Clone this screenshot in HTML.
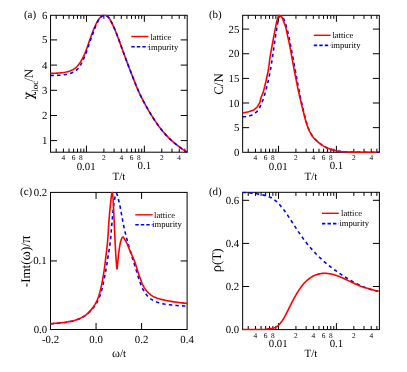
<!DOCTYPE html>
<html><head><meta charset="utf-8"><title>figure</title>
<style>html,body{margin:0;padding:0;background:#fff}svg{display:block;will-change:transform}</style></head>
<body>
<svg width="407" height="372" viewBox="0 0 407 372" font-family='"Liberation Serif", serif' fill="#000" text-rendering="geometricPrecision">
<rect width="407" height="372" fill="#fff" stroke="none"/>
<defs>
<clipPath id="ca"><rect x="49.65" y="14.4" width="138.45" height="138.7"/></clipPath>
<clipPath id="cb"><rect x="241.75" y="14.4" width="138.5" height="138.8"/></clipPath>
<clipPath id="cc"><rect x="49.6" y="191.5" width="138.4" height="138.9"/></clipPath>
<clipPath id="cd"><rect x="241.75" y="191.4" width="138.55" height="139.1"/></clipPath>
</defs>
<rect x="50.55" y="15.3" width="136.65" height="136.9" fill="none" stroke="#000" stroke-width="1.0"/>
<path d="M56.18,152.2v-3.6 M56.18,15.3v3.6" stroke="#000" stroke-width="1.0" fill="none"/>
<path d="M63.41,152.2v-3.6 M63.41,15.3v3.6" stroke="#000" stroke-width="1.0" fill="none"/>
<text x="63.41" y="160.3" font-size="7.4" text-anchor="middle">4</text>
<path d="M69.02,152.2v-3.6 M69.02,15.3v3.6" stroke="#000" stroke-width="1.0" fill="none"/>
<path d="M73.6,152.2v-3.6 M73.6,15.3v3.6" stroke="#000" stroke-width="1.0" fill="none"/>
<text x="73.6" y="160.3" font-size="7.4" text-anchor="middle">6</text>
<path d="M77.48,152.2v-3.6 M77.48,15.3v3.6" stroke="#000" stroke-width="1.0" fill="none"/>
<path d="M80.84,152.2v-3.6 M80.84,15.3v3.6" stroke="#000" stroke-width="1.0" fill="none"/>
<text x="80.84" y="160.3" font-size="7.4" text-anchor="middle">8</text>
<path d="M83.8,152.2v-3.6 M83.8,15.3v3.6" stroke="#000" stroke-width="1.0" fill="none"/>
<path d="M86.45,152.2v-6.5 M86.45,15.3v6.5" stroke="#000" stroke-width="1.0" fill="none"/>
<path d="M103.88,152.2v-3.6 M103.88,15.3v3.6" stroke="#000" stroke-width="1.0" fill="none"/>
<text x="103.88" y="160.3" font-size="7.4" text-anchor="middle">2</text>
<path d="M114.08,152.2v-3.6 M114.08,15.3v3.6" stroke="#000" stroke-width="1.0" fill="none"/>
<path d="M121.31,152.2v-3.6 M121.31,15.3v3.6" stroke="#000" stroke-width="1.0" fill="none"/>
<text x="121.31" y="160.3" font-size="7.4" text-anchor="middle">4</text>
<path d="M126.92,152.2v-3.6 M126.92,15.3v3.6" stroke="#000" stroke-width="1.0" fill="none"/>
<path d="M131.5,152.2v-3.6 M131.5,15.3v3.6" stroke="#000" stroke-width="1.0" fill="none"/>
<text x="131.5" y="160.3" font-size="7.4" text-anchor="middle">6</text>
<path d="M135.38,152.2v-3.6 M135.38,15.3v3.6" stroke="#000" stroke-width="1.0" fill="none"/>
<path d="M138.74,152.2v-3.6 M138.74,15.3v3.6" stroke="#000" stroke-width="1.0" fill="none"/>
<text x="138.74" y="160.3" font-size="7.4" text-anchor="middle">8</text>
<path d="M141.7,152.2v-3.6 M141.7,15.3v3.6" stroke="#000" stroke-width="1.0" fill="none"/>
<path d="M144.35,152.2v-6.5 M144.35,15.3v6.5" stroke="#000" stroke-width="1.0" fill="none"/>
<path d="M161.78,152.2v-3.6 M161.78,15.3v3.6" stroke="#000" stroke-width="1.0" fill="none"/>
<text x="161.78" y="160.3" font-size="7.4" text-anchor="middle">2</text>
<path d="M171.98,152.2v-3.6 M171.98,15.3v3.6" stroke="#000" stroke-width="1.0" fill="none"/>
<path d="M179.21,152.2v-3.6 M179.21,15.3v3.6" stroke="#000" stroke-width="1.0" fill="none"/>
<text x="179.21" y="160.3" font-size="7.4" text-anchor="middle">4</text>
<path d="M184.82,152.2v-3.6 M184.82,15.3v3.6" stroke="#000" stroke-width="1.0" fill="none"/>
<text x="86.15" y="169.6" font-size="10.8" text-anchor="middle">0.01</text>
<text x="144.35" y="169.4" font-size="10.8" text-anchor="middle">0.1</text>
<path d="M50.55,39.9h6.5 M187.2,39.9h-6.5" stroke="#000" stroke-width="1.0" fill="none"/>
<path d="M50.55,65.1h6.5 M187.2,65.1h-6.5" stroke="#000" stroke-width="1.0" fill="none"/>
<path d="M50.55,90.3h6.5 M187.2,90.3h-6.5" stroke="#000" stroke-width="1.0" fill="none"/>
<path d="M50.55,115.5h6.5 M187.2,115.5h-6.5" stroke="#000" stroke-width="1.0" fill="none"/>
<path d="M50.55,140.6h6.5 M187.2,140.6h-6.5" stroke="#000" stroke-width="1.0" fill="none"/>
<text x="47.4" y="18.6" font-size="10.8" text-anchor="end">6</text>
<text x="47.4" y="43.4" font-size="10.8" text-anchor="end">5</text>
<text x="47.4" y="68.6" font-size="10.8" text-anchor="end">4</text>
<text x="47.4" y="93.8" font-size="10.8" text-anchor="end">3</text>
<text x="47.4" y="119" font-size="10.8" text-anchor="end">2</text>
<text x="47.4" y="144.1" font-size="10.8" text-anchor="end">1</text>
<path d="M50.5,73.4 L52.14,73.34 L53.77,73.28 L55.4,73.21 L57.01,73.13 L58.62,73.03 L60.2,72.91 L61.77,72.75 L63.32,72.55 L64.83,72.3 L66.32,72 L67.78,71.63 L69.21,71.2 L70.59,70.69 L71.93,70.1 L73.21,69.42 L74.43,68.65 L75.58,67.78 L76.66,66.81 L77.66,65.74 L78.61,64.58 L79.5,63.36 L80.34,62.07 L81.16,60.74 L81.94,59.37 L82.7,57.97 L83.43,56.54 L84.12,55.08 L84.79,53.6 L85.42,52.11 L86.02,50.59 L86.59,49.07 L87.14,47.53 L87.68,45.98 L88.21,44.43 L88.74,42.88 L89.28,41.32 L89.82,39.77 L90.37,38.22 L90.93,36.67 L91.49,35.14 L92.06,33.6 L92.63,32.08 L93.21,30.58 L93.8,29.1 L94.4,27.64 L95,26.23 L95.62,24.85 L96.25,23.53 L96.9,22.26 L97.57,21.07 L98.26,19.96 L98.97,18.94 L99.7,18.03 L100.46,17.24 L101.23,16.56 L102,16 L102.78,15.57 L103.57,15.3 L104.39,15.2 L105.25,15.29 L106.14,15.59 L107.02,16.07 L107.86,16.73 L108.65,17.57 L109.38,18.56 L110.09,19.68 L110.78,20.91 L111.47,22.22 L112.17,23.62 L112.86,25.08 L113.55,26.6 L114.25,28.17 L114.94,29.78 L115.62,31.43 L116.29,33.11 L116.96,34.8 L117.61,36.49 L118.25,38.18 L118.87,39.85 L119.48,41.49 L120.06,43.09 L120.63,44.66 L121.19,46.23 L121.76,47.82 L122.35,49.47 L122.98,51.19 L123.64,53.02 L124.36,54.97 L125.12,57.02 L125.93,59.16 L126.76,61.37 L127.61,63.63 L128.48,65.91 L129.35,68.2 L130.22,70.47 L131.07,72.72 L131.92,74.91 L132.75,77.06 L133.57,79.16 L134.38,81.22 L135.18,83.23 L135.98,85.19 L136.78,87.1 L137.57,88.97 L138.37,90.8 L139.18,92.59 L140.01,94.36 L140.85,96.14 L141.73,97.92 L142.65,99.72 L143.61,101.56 L144.62,103.45 L145.68,105.38 L146.78,107.35 L147.92,109.35 L149.1,111.35 L150.3,113.35 L151.51,115.34 L152.74,117.3 L153.97,119.21 L155.21,121.08 L156.44,122.89 L157.68,124.65 L158.93,126.37 L160.18,128.03 L161.45,129.65 L162.72,131.22 L164.01,132.74 L165.32,134.23 L166.64,135.67 L167.99,137.08 L169.36,138.45 L170.76,139.8 L172.2,141.11 L173.68,142.41 L175.19,143.68 L176.75,144.94 L178.35,146.18 L180.01,147.41 L181.72,148.64 L183.48,149.86 L185.31,151.08 L187.2,152.3" fill="none" stroke="#ff0000" stroke-width="1.6" stroke-linejoin="round" clip-path="url(#ca)"/>
<path d="M50.5,75.5 L52.35,75.46 L54.07,75.42 L55.69,75.38 L57.22,75.34 L58.68,75.28 L60.08,75.19 L61.46,75.08 L62.82,74.94 L64.19,74.76 L65.57,74.53 L67,74.24 L68.49,73.9 L70.01,73.48 L71.53,72.97 L73.03,72.35 L74.46,71.6 L75.8,70.7 L77.01,69.66 L78.12,68.47 L79.13,67.17 L80.05,65.79 L80.91,64.34 L81.72,62.84 L82.5,61.33 L83.24,59.81 L83.94,58.27 L84.62,56.72 L85.26,55.16 L85.88,53.59 L86.47,52 L87.03,50.41 L87.57,48.8 L88.11,47.2 L88.63,45.6 L89.16,44 L89.7,42.42 L90.24,40.85 L90.8,39.28 L91.36,37.73 L91.92,36.19 L92.48,34.65 L93.04,33.12 L93.6,31.6 L94.15,30.09 L94.71,28.6 L95.28,27.15 L95.85,25.73 L96.44,24.36 L97.04,23.04 L97.66,21.78 L98.3,20.61 L98.97,19.52 L99.67,18.54 L100.39,17.67 L101.14,16.92 L101.9,16.28 L102.66,15.78 L103.43,15.41 L104.22,15.22 L105.04,15.23 L105.89,15.45 L106.75,15.87 L107.58,16.48 L108.37,17.27 L109.12,18.21 L109.85,19.3 L110.55,20.49 L111.25,21.79 L111.95,23.16 L112.65,24.61 L113.35,26.12 L114.04,27.68 L114.73,29.29 L115.42,30.94 L116.1,32.62 L116.77,34.31 L117.43,36.01 L118.07,37.71 L118.7,39.39 L119.31,41.04 L119.9,42.66 L120.48,44.25 L121.04,45.82 L121.61,47.41 L122.2,49.05 L122.82,50.76 L123.48,52.57 L124.19,54.49 L124.94,56.53 L125.74,58.67 L126.57,60.87 L127.42,63.13 L128.29,65.42 L129.16,67.72 L130.04,70.01 L130.9,72.27 L131.75,74.48 L132.59,76.65 L133.41,78.77 L134.23,80.84 L135.04,82.87 L135.84,84.85 L136.64,86.78 L137.44,88.66 L138.24,90.5 L139.05,92.31 L139.88,94.09 L140.72,95.87 L141.6,97.65 L142.51,99.46 L143.47,101.3 L144.48,103.19 L145.54,105.13 L146.64,107.11 L147.78,109.11 L148.96,111.12 L150.16,113.13 L151.38,115.13 L152.61,117.1 L153.85,119.03 L155.09,120.9 L156.33,122.73 L157.58,124.5 L158.83,126.23 L160.09,127.9 L161.35,129.53 L162.63,131.11 L163.93,132.65 L165.24,134.14 L166.57,135.59 L167.92,137.01 L169.3,138.39 L170.7,139.74 L172.15,141.06 L173.62,142.36 L175.14,143.64 L176.71,144.9 L178.32,146.15 L179.98,147.39 L181.69,148.62 L183.47,149.85 L185.3,151.07 L187.2,152.3" fill="none" stroke="#0000ff" stroke-width="1.6" stroke-linejoin="round" stroke-dasharray="3.4 3.2" stroke-dashoffset="0" clip-path="url(#ca)"/>
<text x="30" y="18.4" font-size="11" text-anchor="middle">(a)</text>
<text x="119" y="179.6" font-size="11" text-anchor="middle">T/t</text>
<text transform="translate(33.4,99.4) rotate(-90) scale(0.93,1)" font-size="14.1" font-family='"DejaVu Serif", "Liberation Serif", serif'>χ</text>
<text transform="translate(37.6,91.8) rotate(-90)" font-size="9">loc</text>
<text transform="translate(33.0,81.6) rotate(-90)" font-size="12.6">/N</text>
<path d="M131.3,36.5H148.4" stroke="#ff0000" stroke-width="1.4" fill="none"/>
<path d="M131.3,46.8H148.4" stroke="#0000ff" stroke-width="1.6" stroke-dasharray="3.4 2.1" fill="none"/>
<text x="150.4" y="39.9" font-size="8.6" text-anchor="start">lattice</text>
<text x="148.6" y="49.9" font-size="8.6" text-anchor="start">impurity</text>
<rect x="242.65" y="15.3" width="136.7" height="137" fill="none" stroke="#000" stroke-width="1.0"/>
<path d="M248.23,152.3v-3.6 M248.23,15.3v3.6" stroke="#000" stroke-width="1.0" fill="none"/>
<path d="M255.46,152.3v-3.6 M255.46,15.3v3.6" stroke="#000" stroke-width="1.0" fill="none"/>
<text x="255.46" y="160.3" font-size="7.4" text-anchor="middle">4</text>
<path d="M261.07,152.3v-3.6 M261.07,15.3v3.6" stroke="#000" stroke-width="1.0" fill="none"/>
<path d="M265.65,152.3v-3.6 M265.65,15.3v3.6" stroke="#000" stroke-width="1.0" fill="none"/>
<text x="265.65" y="160.3" font-size="7.4" text-anchor="middle">6</text>
<path d="M269.53,152.3v-3.6 M269.53,15.3v3.6" stroke="#000" stroke-width="1.0" fill="none"/>
<path d="M272.89,152.3v-3.6 M272.89,15.3v3.6" stroke="#000" stroke-width="1.0" fill="none"/>
<text x="272.89" y="160.3" font-size="7.4" text-anchor="middle">8</text>
<path d="M275.85,152.3v-3.6 M275.85,15.3v3.6" stroke="#000" stroke-width="1.0" fill="none"/>
<path d="M278.5,152.3v-6.5 M278.5,15.3v6.5" stroke="#000" stroke-width="1.0" fill="none"/>
<path d="M295.93,152.3v-3.6 M295.93,15.3v3.6" stroke="#000" stroke-width="1.0" fill="none"/>
<text x="295.93" y="160.3" font-size="7.4" text-anchor="middle">2</text>
<path d="M306.13,152.3v-3.6 M306.13,15.3v3.6" stroke="#000" stroke-width="1.0" fill="none"/>
<path d="M313.36,152.3v-3.6 M313.36,15.3v3.6" stroke="#000" stroke-width="1.0" fill="none"/>
<text x="313.36" y="160.3" font-size="7.4" text-anchor="middle">4</text>
<path d="M318.97,152.3v-3.6 M318.97,15.3v3.6" stroke="#000" stroke-width="1.0" fill="none"/>
<path d="M323.55,152.3v-3.6 M323.55,15.3v3.6" stroke="#000" stroke-width="1.0" fill="none"/>
<text x="323.55" y="160.3" font-size="7.4" text-anchor="middle">6</text>
<path d="M327.43,152.3v-3.6 M327.43,15.3v3.6" stroke="#000" stroke-width="1.0" fill="none"/>
<path d="M330.79,152.3v-3.6 M330.79,15.3v3.6" stroke="#000" stroke-width="1.0" fill="none"/>
<text x="330.79" y="160.3" font-size="7.4" text-anchor="middle">8</text>
<path d="M333.75,152.3v-3.6 M333.75,15.3v3.6" stroke="#000" stroke-width="1.0" fill="none"/>
<path d="M336.4,152.3v-6.5 M336.4,15.3v6.5" stroke="#000" stroke-width="1.0" fill="none"/>
<path d="M353.83,152.3v-3.6 M353.83,15.3v3.6" stroke="#000" stroke-width="1.0" fill="none"/>
<text x="353.83" y="160.3" font-size="7.4" text-anchor="middle">2</text>
<path d="M364.03,152.3v-3.6 M364.03,15.3v3.6" stroke="#000" stroke-width="1.0" fill="none"/>
<path d="M371.26,152.3v-3.6 M371.26,15.3v3.6" stroke="#000" stroke-width="1.0" fill="none"/>
<text x="371.26" y="160.3" font-size="7.4" text-anchor="middle">4</text>
<path d="M376.87,152.3v-3.6 M376.87,15.3v3.6" stroke="#000" stroke-width="1.0" fill="none"/>
<text x="278.2" y="169.6" font-size="10.8" text-anchor="middle">0.01</text>
<text x="336.4" y="169.4" font-size="10.8" text-anchor="middle">0.1</text>
<path d="M242.65,29.1h6.5 M379.35,29.1h-6.5" stroke="#000" stroke-width="1.0" fill="none"/>
<path d="M242.65,53.75h6.5 M379.35,53.75h-6.5" stroke="#000" stroke-width="1.0" fill="none"/>
<path d="M242.65,78.4h6.5 M379.35,78.4h-6.5" stroke="#000" stroke-width="1.0" fill="none"/>
<path d="M242.65,103h6.5 M379.35,103h-6.5" stroke="#000" stroke-width="1.0" fill="none"/>
<path d="M242.65,127.65h6.5 M379.35,127.65h-6.5" stroke="#000" stroke-width="1.0" fill="none"/>
<text x="239.4" y="32.6" font-size="10.8" text-anchor="end">25</text>
<text x="239.4" y="57.25" font-size="10.8" text-anchor="end">20</text>
<text x="239.4" y="81.9" font-size="10.8" text-anchor="end">15</text>
<text x="239.4" y="106.5" font-size="10.8" text-anchor="end">10</text>
<text x="239.4" y="131.15" font-size="10.8" text-anchor="end">5</text>
<text x="239.4" y="155.8" font-size="10.8" text-anchor="end">0</text>
<path d="M242.7,116.8 L244.34,116.73 L245.94,116.54 L247.5,116.26 L249.02,115.92 L250.51,115.54 L252,114.99 L253.5,114.21 L254.93,113.27 L256.23,112.23 L257.35,111.14 L258.3,109.91 L259.16,108.51 L259.95,106.97 L260.7,105.33 L261.44,103.64 L262.16,101.9 L262.87,100.04 L263.55,98.08 L264.2,96.05 L264.84,93.95 L265.47,91.79 L266.07,89.6 L266.66,87.36 L267.24,85.06 L267.8,82.7 L268.35,80.26 L268.89,77.75 L269.43,75.13 L269.96,72.42 L270.5,69.55 L271.03,66.41 L271.57,63.06 L272.1,59.57 L272.63,56 L273.15,52.41 L273.65,48.88 L274.14,45.46 L274.62,42.23 L275.07,39.24 L275.5,36.52 L275.91,33.9 L276.29,31.35 L276.66,28.91 L277.03,26.62 L277.39,24.51 L277.76,22.6 L278.13,20.9 L278.47,19.13 L278.8,17.5 L279.19,16.35 L279.7,16.01 L280.55,16.25 L281.61,16.75 L282.58,17.38 L283.36,18.32 L284.09,19.73 L284.77,21.48 L285.42,23.45 L286.06,25.49 L286.68,27.51 L287.27,29.7 L287.85,32.06 L288.41,34.58 L288.96,37.19 L289.5,39.86 L290.03,42.56 L290.56,45.23 L291.1,47.88 L291.63,50.6 L292.16,53.39 L292.69,56.22 L293.21,59.05 L293.72,61.87 L294.22,64.64 L294.71,67.34 L295.19,69.93 L295.65,72.42 L296.09,74.84 L296.53,77.21 L296.95,79.54 L297.38,81.83 L297.8,84.11 L298.24,86.39 L298.69,88.66 L299.13,90.91 L299.58,93.13 L300.03,95.34 L300.49,97.55 L300.96,99.75 L301.44,101.97 L301.94,104.22 L302.44,106.5 L302.96,108.8 L303.49,111.1 L304.03,113.37 L304.59,115.59 L305.16,117.74 L305.75,119.82 L306.34,121.88 L306.95,123.9 L307.58,125.87 L308.24,127.75 L308.93,129.53 L309.67,131.18 L310.45,132.72 L311.28,134.19 L312.16,135.58 L313.09,136.89 L314.07,138.13 L315.12,139.29 L316.23,140.4 L317.41,141.45 L318.62,142.46 L319.86,143.44 L321.16,144.42 L322.51,145.38 L323.89,146.27 L325.29,147.05 L326.68,147.7 L328.09,148.27 L329.52,148.77 L330.95,149.23 L332.39,149.64 L333.81,150.04 L335.2,150.41 L336.61,150.75 L338.09,151.04 L339.69,151.26 L341.36,151.44 L343.11,151.61 L344.96,151.76 L346.94,151.88 L349.06,151.96 L351.36,152.02 L353.83,152.08 L356.47,152.12 L359.27,152.17 L362.24,152.2 L365.36,152.24 L368.64,152.26 L372.08,152.28 L375.67,152.3 L379.4,152.3" fill="none" stroke="#0000ff" stroke-width="1.6" stroke-linejoin="round" stroke-dasharray="3.4 3.2" stroke-dashoffset="0" clip-path="url(#cb)"/>
<path d="M242.7,113 L248.6,111.8 L253.8,109.9 L257.2,107 L259.8,102.7 L261,97.5 L263.2,92.4 L265.8,82 L268.4,70 L270.1,56.7 L273.5,37.8 L276.5,22.3 L278.7,15.1 L282.1,17.2 L285.6,26.6 L289.9,46.4 L294.2,70 L297.6,87.2 L301.1,102.7 L305.2,119 L305.73,120.88 L306.27,122.67 L306.82,124.39 L307.38,126.03 L307.96,127.6 L308.55,129.09 L309.18,130.52 L309.82,131.87 L310.5,133.16 L311.21,134.39 L311.96,135.56 L312.74,136.67 L313.56,137.72 L314.43,138.72 L315.35,139.67 L316.3,140.58 L317.29,141.46 L318.32,142.32 L319.38,143.17 L320.48,144 L321.6,144.82 L322.74,145.61 L323.91,146.35 L325.09,147.03 L326.29,147.64 L327.5,148.16 L328.72,148.62 L329.93,149.03 L331.15,149.39 L332.35,149.73 L333.54,150.06 L334.73,150.37 L335.93,150.66 L337.17,150.93 L338.44,151.17 L339.78,151.39 L341.19,151.57 L342.68,151.72 L344.24,151.84 L345.89,151.94 L347.63,152.02 L349.45,152.08 L351.37,152.12 L353.39,152.15 L355.5,152.17 L357.72,152.19 L360.05,152.19 L362.49,152.2 L365.05,152.21 L367.73,152.22 L370.52,152.23 L373.45,152.26 L376.5,152.3" fill="none" stroke="#ff0000" stroke-width="1.6" stroke-linejoin="round" clip-path="url(#cb)"/>
<text x="215.3" y="18.1" font-size="11" text-anchor="middle">(b)</text>
<text x="311" y="179.6" font-size="11" text-anchor="middle">T/t</text>
<text transform="translate(223,84) rotate(-90)" font-size="13" text-anchor="middle">C/N</text>
<path d="M313.8,35.3H330.6" stroke="#ff0000" stroke-width="1.4" fill="none"/>
<path d="M313.8,45.4H330.6" stroke="#0000ff" stroke-width="1.6" stroke-dasharray="3.4 2.1" fill="none"/>
<text x="332.4" y="38.2" font-size="8.6" text-anchor="start">lattice</text>
<text x="330.9" y="48" font-size="8.6" text-anchor="start">impurity</text>
<rect x="50.5" y="192.4" width="136.6" height="137.1" fill="none" stroke="#000" stroke-width="1.0"/>
<path d="M96.05,329.5v-6.5 M96.05,192.4v6.5" stroke="#000" stroke-width="1.0" fill="none"/>
<path d="M141.6,329.5v-6.5 M141.6,192.4v6.5" stroke="#000" stroke-width="1.0" fill="none"/>
<path d="M50.5,260.95h6.5 M187.1,260.95h-6.5" stroke="#000" stroke-width="1.0" fill="none"/>
<text x="50.5" y="343.2" font-size="10.8" text-anchor="middle">-0.2</text>
<text x="96.05" y="343.2" font-size="10.8" text-anchor="middle">0.0</text>
<text x="141.6" y="343.2" font-size="10.8" text-anchor="middle">0.2</text>
<text x="187.1" y="343.2" font-size="10.8" text-anchor="middle">0.4</text>
<text x="47.2" y="195.9" font-size="10.8" text-anchor="end">0.2</text>
<text x="46.7" y="264.45" font-size="10.8" text-anchor="end">0.1</text>
<text x="47.2" y="333" font-size="10.8" text-anchor="end">0.0</text>
<path d="M50.5,323.8 L52.4,323.71 L54.28,323.59 L56.14,323.45 L57.99,323.29 L59.82,323.11 L61.64,322.92 L63.45,322.71 L65.27,322.46 L67.07,322.18 L68.83,321.87 L70.55,321.53 L72.21,321.17 L73.82,320.77 L75.38,320.32 L76.89,319.82 L78.37,319.27 L79.8,318.69 L81.19,318.04 L82.56,317.32 L83.89,316.52 L85.16,315.68 L86.36,314.81 L87.47,313.9 L88.53,312.93 L89.53,311.92 L90.51,310.87 L91.48,309.8 L92.46,308.71 L93.43,307.59 L94.37,306.43 L95.25,305.22 L96.07,303.96 L96.86,302.62 L97.61,301.22 L98.32,299.77 L98.98,298.29 L99.58,296.79 L100.15,295.24 L100.68,293.63 L101.18,292 L101.64,290.37 L102.06,288.75 L102.45,287.17 L102.79,285.6 L103.11,284.04 L103.41,282.48 L103.72,280.91 L104.04,279.34 L104.35,277.81 L104.67,276.29 L104.98,274.73 L105.3,273.09 L105.63,271.32 L105.98,269.37 L106.34,267.27 L106.7,265.05 L107.07,262.76 L107.43,260.45 L107.79,258.14 L108.14,255.9 L108.48,253.72 L108.83,251.53 L109.19,249.35 L109.53,247.18 L109.86,245.01 L110.16,242.86 L110.42,240.72 L110.64,238.62 L110.83,236.59 L110.99,234.59 L111.15,232.59 L111.3,230.55 L111.47,228.43 L111.66,226.19 L111.88,223.75 L112.12,221.05 L112.38,218.17 L112.65,215.2 L112.93,212.23 L113.23,209.32 L113.54,206.58 L113.86,204.08 L114.18,201.9 L114.53,199.82 L114.89,197.67 L115.28,195.69 L115.68,194.15 L116.11,193.29 L116.56,193.37 L117.06,194.36 L117.59,196.03 L118.13,198.15 L118.68,200.46 L119.21,202.74 L119.73,204.88 L120.23,207.25 L120.73,209.82 L121.23,212.54 L121.73,215.33 L122.23,218.12 L122.72,220.85 L123.22,223.45 L123.71,225.85 L124.2,228.07 L124.68,230.18 L125.15,232.22 L125.63,234.21 L126.12,236.19 L126.63,238.19 L127.16,240.23 L127.72,242.31 L128.31,244.39 L128.92,246.48 L129.54,248.57 L130.17,250.66 L130.8,252.72 L131.42,254.77 L132.04,256.8 L132.67,258.81 L133.3,260.8 L133.93,262.79 L134.56,264.78 L135.19,266.77 L135.81,268.77 L136.43,270.82 L137.05,272.9 L137.66,274.99 L138.28,277.05 L138.91,279.05 L139.55,280.96 L140.2,282.73 L140.85,284.41 L141.5,286.02 L142.17,287.56 L142.89,289.05 L143.67,290.5 L144.54,291.95 L145.51,293.41 L146.55,294.84 L147.67,296.19 L148.85,297.4 L150.08,298.44 L151.39,299.34 L152.79,300.18 L154.26,300.94 L155.79,301.61 L157.37,302.19 L158.96,302.69 L160.6,303.16 L162.28,303.58 L164.04,303.96 L165.88,304.29 L167.83,304.58 L169.89,304.83 L172.05,305.08 L174.31,305.31 L176.68,305.53 L179.14,305.72 L181.7,305.88 L184.35,306.01 L187.1,306.1" fill="none" stroke="#0000ff" stroke-width="1.6" stroke-linejoin="round" stroke-dasharray="3.4 3.2" stroke-dashoffset="0" clip-path="url(#cc)"/>
<path d="M50.5,323.6 L52.23,323.52 L53.96,323.41 L55.67,323.29 L57.36,323.14 L59.04,322.99 L60.71,322.82 L62.37,322.64 L64.03,322.43 L65.69,322.2 L67.33,321.94 L68.94,321.65 L70.52,321.34 L72.04,321.01 L73.51,320.66 L74.95,320.25 L76.35,319.81 L77.71,319.33 L79.04,318.81 L80.33,318.25 L81.6,317.63 L82.84,316.93 L84.04,316.18 L85.2,315.39 L86.29,314.57 L87.31,313.72 L88.29,312.82 L89.22,311.87 L90.11,310.88 L90.98,309.88 L91.82,308.87 L92.64,307.84 L93.44,306.78 L94.2,305.69 L94.92,304.56 L95.58,303.38 L96.22,302.15 L96.82,300.86 L97.39,299.54 L97.92,298.18 L98.43,296.8 L98.91,295.39 L99.36,293.92 L99.8,292.42 L100.21,290.91 L100.59,289.4 L100.95,287.93 L101.27,286.49 L101.57,285.09 L101.85,283.7 L102.12,282.3 L102.39,280.87 L102.65,279.41 L102.92,277.9 L103.19,276.36 L103.45,274.8 L103.71,273.21 L103.96,271.61 L104.2,270 L104.43,268.39 L104.64,266.79 L104.84,265.17 L105.05,263.52 L105.25,261.82 L105.46,260.04 L105.69,258.16 L105.93,256.16 L106.19,254.07 L106.45,251.89 L106.71,249.66 L106.97,247.39 L107.22,245.09 L107.45,242.8 L107.66,240.52 L107.84,238.25 L108.01,235.93 L108.16,233.58 L108.31,231.21 L108.45,228.83 L108.6,226.47 L108.74,224.15 L108.89,221.86 L109.05,219.65 L109.22,217.49 L109.4,215.33 L109.59,213.19 L109.79,211.08 L109.99,209.03 L110.18,207.05 L110.37,205.16 L110.56,203.38 L110.74,201.68 L110.91,200.01 L111.08,198.39 L111.24,196.9 L111.42,195.59 L111.6,194.51 L111.8,193.51 L112.01,192.66 L112.2,192.3 L112.39,192.69 L112.56,193.65 L112.72,194.85 L112.85,196.01 L112.96,197.29 L113.06,198.74 L113.15,200.32 L113.23,202.03 L113.33,203.84 L113.43,205.75 L113.54,207.87 L113.66,210.23 L113.78,212.76 L113.9,215.43 L114.02,218.18 L114.14,220.97 L114.27,223.75 L114.39,226.48 L114.51,229.09 L114.63,231.57 L114.74,234 L114.85,236.43 L114.96,238.85 L115.07,241.24 L115.18,243.57 L115.29,245.85 L115.4,248.03 L115.51,250.12 L115.63,252.1 L115.75,254 L115.87,255.83 L115.98,257.59 L116.11,259.28 L116.23,260.88 L116.35,262.39 L116.47,263.87 L116.59,265.51 L116.71,267.08 L116.84,268.32 L116.96,268.96 L117.09,268.77 L117.23,267.85 L117.36,266.49 L117.5,264.99 L117.64,263.63 L117.78,262.23 L117.93,260.71 L118.08,259.14 L118.23,257.55 L118.39,255.99 L118.56,254.5 L118.74,253.03 L118.93,251.57 L119.12,250.13 L119.33,248.73 L119.54,247.37 L119.76,246.05 L119.97,244.76 L120.2,243.51 L120.45,242.31 L120.75,241.18 L121.11,240.01 L121.56,238.75 L122.07,237.66 L122.61,237.05 L123.17,237.14 L123.78,237.81 L124.42,238.83 L125.09,239.97 L125.75,241.1 L126.43,242.44 L127.13,243.96 L127.84,245.61 L128.56,247.32 L129.27,249.05 L129.98,250.71 L130.68,252.31 L131.39,253.91 L132.1,255.52 L132.81,257.14 L133.5,258.78 L134.18,260.44 L134.83,262.12 L135.46,263.86 L136.05,265.65 L136.63,267.47 L137.19,269.31 L137.76,271.14 L138.33,272.94 L138.92,274.7 L139.52,276.4 L140.12,278.1 L140.72,279.8 L141.34,281.46 L141.97,283.06 L142.64,284.59 L143.35,286.02 L144.11,287.35 L144.93,288.63 L145.8,289.86 L146.72,291.01 L147.67,292.08 L148.66,293.05 L149.67,293.96 L150.72,294.81 L151.83,295.61 L153.01,296.34 L154.27,297 L155.66,297.6 L157.22,298.16 L158.91,298.7 L160.68,299.19 L162.48,299.65 L164.27,300.06 L165.99,300.44 L167.63,300.77 L169.25,301.07 L170.86,301.35 L172.46,301.6 L174.06,301.84 L175.67,302.07 L177.29,302.29 L178.92,302.5 L180.55,302.71 L182.18,302.9 L183.82,303.08 L185.46,303.25 L187.1,303.4" fill="none" stroke="#ff0000" stroke-width="1.6" stroke-linejoin="round" clip-path="url(#cc)"/>
<text x="26.1" y="195.3" font-size="11" text-anchor="middle">(c)</text>
<text x="119" y="357" font-size="11" text-anchor="middle"><tspan font-size="12">ω</tspan>/t</text>
<text transform="translate(29.9,287.2) rotate(-90)" font-size="13">-Imt(<tspan font-size="14.3">ω</tspan>)/<tspan font-size="14.8">π</tspan></text>
<path d="M135.3,214.8H152.6" stroke="#ff0000" stroke-width="1.4" fill="none"/>
<path d="M135.3,224.8H152.6" stroke="#0000ff" stroke-width="1.6" stroke-dasharray="3.4 2.1" fill="none"/>
<text x="154.1" y="217.7" font-size="8.6" text-anchor="start">lattice</text>
<text x="152.2" y="227.4" font-size="8.6" text-anchor="start">impurity</text>
<rect x="242.65" y="192.3" width="136.75" height="137.3" fill="none" stroke="#000" stroke-width="1.0"/>
<path d="M248.23,329.6v-3.6 M248.23,192.3v3.6" stroke="#000" stroke-width="1.0" fill="none"/>
<path d="M255.46,329.6v-3.6 M255.46,192.3v3.6" stroke="#000" stroke-width="1.0" fill="none"/>
<text x="255.46" y="337.7" font-size="7.4" text-anchor="middle">4</text>
<path d="M261.07,329.6v-3.6 M261.07,192.3v3.6" stroke="#000" stroke-width="1.0" fill="none"/>
<path d="M265.65,329.6v-3.6 M265.65,192.3v3.6" stroke="#000" stroke-width="1.0" fill="none"/>
<text x="265.65" y="337.7" font-size="7.4" text-anchor="middle">6</text>
<path d="M269.53,329.6v-3.6 M269.53,192.3v3.6" stroke="#000" stroke-width="1.0" fill="none"/>
<path d="M272.89,329.6v-3.6 M272.89,192.3v3.6" stroke="#000" stroke-width="1.0" fill="none"/>
<text x="272.89" y="337.7" font-size="7.4" text-anchor="middle">8</text>
<path d="M275.85,329.6v-3.6 M275.85,192.3v3.6" stroke="#000" stroke-width="1.0" fill="none"/>
<path d="M278.5,329.6v-6.5 M278.5,192.3v6.5" stroke="#000" stroke-width="1.0" fill="none"/>
<path d="M295.93,329.6v-3.6 M295.93,192.3v3.6" stroke="#000" stroke-width="1.0" fill="none"/>
<text x="295.93" y="337.7" font-size="7.4" text-anchor="middle">2</text>
<path d="M306.13,329.6v-3.6 M306.13,192.3v3.6" stroke="#000" stroke-width="1.0" fill="none"/>
<path d="M313.36,329.6v-3.6 M313.36,192.3v3.6" stroke="#000" stroke-width="1.0" fill="none"/>
<text x="313.36" y="337.7" font-size="7.4" text-anchor="middle">4</text>
<path d="M318.97,329.6v-3.6 M318.97,192.3v3.6" stroke="#000" stroke-width="1.0" fill="none"/>
<path d="M323.55,329.6v-3.6 M323.55,192.3v3.6" stroke="#000" stroke-width="1.0" fill="none"/>
<text x="323.55" y="337.7" font-size="7.4" text-anchor="middle">6</text>
<path d="M327.43,329.6v-3.6 M327.43,192.3v3.6" stroke="#000" stroke-width="1.0" fill="none"/>
<path d="M330.79,329.6v-3.6 M330.79,192.3v3.6" stroke="#000" stroke-width="1.0" fill="none"/>
<text x="330.79" y="337.7" font-size="7.4" text-anchor="middle">8</text>
<path d="M333.75,329.6v-3.6 M333.75,192.3v3.6" stroke="#000" stroke-width="1.0" fill="none"/>
<path d="M336.4,329.6v-6.5 M336.4,192.3v6.5" stroke="#000" stroke-width="1.0" fill="none"/>
<path d="M353.83,329.6v-3.6 M353.83,192.3v3.6" stroke="#000" stroke-width="1.0" fill="none"/>
<text x="353.83" y="337.7" font-size="7.4" text-anchor="middle">2</text>
<path d="M364.03,329.6v-3.6 M364.03,192.3v3.6" stroke="#000" stroke-width="1.0" fill="none"/>
<path d="M371.26,329.6v-3.6 M371.26,192.3v3.6" stroke="#000" stroke-width="1.0" fill="none"/>
<text x="371.26" y="337.7" font-size="7.4" text-anchor="middle">4</text>
<path d="M376.87,329.6v-3.6 M376.87,192.3v3.6" stroke="#000" stroke-width="1.0" fill="none"/>
<text x="278.2" y="347" font-size="10.8" text-anchor="middle">0.01</text>
<text x="336.4" y="346.8" font-size="10.8" text-anchor="middle">0.1</text>
<path d="M242.65,200.3h6.5 M379.4,200.3h-6.5" stroke="#000" stroke-width="1.0" fill="none"/>
<path d="M242.65,243.4h6.5 M379.4,243.4h-6.5" stroke="#000" stroke-width="1.0" fill="none"/>
<path d="M242.65,286.5h6.5 M379.4,286.5h-6.5" stroke="#000" stroke-width="1.0" fill="none"/>
<text x="239.2" y="203.8" font-size="10.8" text-anchor="end">0.6</text>
<text x="239.2" y="246.9" font-size="10.8" text-anchor="end">0.4</text>
<text x="239.2" y="290" font-size="10.8" text-anchor="end">0.2</text>
<text x="239.2" y="333.1" font-size="10.8" text-anchor="end">0.0</text>
<path d="M242.7,192.45 L243.7,192.48 L244.7,192.52 L245.7,192.57 L246.7,192.63 L247.7,192.7 L248.7,192.78 L249.7,192.87 L250.7,192.97 L251.7,193.08 L252.7,193.2 L253.7,193.33 L254.7,193.47 L255.7,193.62 L256.7,193.77 L257.7,193.94 L258.7,194.12 L259.7,194.31 L260.7,194.5 L261.7,194.71 L262.7,194.92 L263.7,195.15 L264.7,195.39 L265.7,195.66 L266.7,195.96 L267.7,196.29 L268.7,196.66 L269.7,197.08 L270.7,197.54 L271.7,198.06 L272.7,198.65 L273.7,199.3 L274.7,200.02 L275.7,200.82 L276.7,201.7 L277.7,202.66 L278.7,203.68 L279.7,204.78 L280.7,205.93 L281.7,207.15 L282.7,208.41 L283.7,209.73 L284.7,211.09 L285.7,212.48 L286.7,213.92 L287.7,215.38 L288.7,216.87 L289.7,218.38 L290.7,219.91 L291.7,221.44 L292.7,222.99 L293.7,224.54 L294.7,226.09 L295.7,227.63 L296.7,229.16 L297.7,230.68 L298.7,232.17 L299.7,233.65 L300.7,235.09 L301.7,236.5 L302.7,237.89 L303.7,239.24 L304.7,240.57 L305.7,241.87 L306.7,243.14 L307.7,244.39 L308.7,245.61 L309.7,246.8 L310.7,247.97 L311.7,249.12 L312.7,250.24 L313.7,251.34 L314.7,252.41 L315.7,253.47 L316.7,254.5 L317.7,255.51 L318.7,256.5 L319.7,257.47 L320.7,258.42 L321.7,259.35 L322.7,260.26 L323.7,261.16 L324.7,262.04 L325.7,262.9 L326.7,263.74 L327.7,264.57 L328.7,265.39 L329.7,266.19 L330.7,266.97 L331.7,267.74 L332.7,268.5 L333.7,269.25 L334.7,269.98 L335.7,270.71 L336.7,271.42 L337.7,272.12 L338.7,272.81 L339.7,273.5 L340.7,274.17 L341.7,274.84 L342.7,275.5 L343.7,276.15 L344.7,276.79 L345.7,277.42 L346.7,278.05 L347.7,278.66 L348.7,279.26 L349.7,279.86 L350.7,280.44 L351.7,281.02 L352.7,281.58 L353.7,282.13 L354.7,282.67 L355.7,283.2 L356.7,283.71 L357.7,284.22 L358.7,284.71 L359.7,285.18 L360.7,285.65 L361.7,286.1 L362.7,286.53 L363.7,286.95 L364.7,287.36 L365.7,287.75 L366.7,288.13 L367.7,288.49 L368.7,288.83 L369.7,289.16 L370.7,289.47 L371.7,289.77 L372.7,290.04 L373.7,290.3 L374.7,290.54 L375.7,290.77 L376.7,290.97 L377.7,291.16 L378.7,291.33 L379.4,291.43" fill="none" stroke="#0000ff" stroke-width="1.6" stroke-linejoin="round" stroke-dasharray="3.4 3.2" stroke-dashoffset="0" clip-path="url(#cd)"/>
<path d="M242.7,329.5 L265.3,329.45 L266.3,329.18 L267.3,328.99 L268.3,328.84 L269.3,328.72 L270.3,328.61 L271.3,328.49 L272.3,328.33 L273.3,328.11 L274.3,327.82 L275.3,327.42 L276.3,326.91 L277.3,326.25 L278.3,325.44 L279.3,324.46 L280.3,323.32 L281.3,322.04 L282.3,320.6 L283.3,319.03 L284.3,317.33 L285.3,315.52 L286.3,313.64 L287.3,311.69 L288.3,309.7 L289.3,307.69 L290.3,305.67 L291.3,303.68 L292.3,301.72 L293.3,299.81 L294.3,297.96 L295.3,296.16 L296.3,294.42 L297.3,292.74 L298.3,291.13 L299.3,289.59 L300.3,288.12 L301.3,286.73 L302.3,285.42 L303.3,284.19 L304.3,283.05 L305.3,281.99 L306.3,281.01 L307.3,280.1 L308.3,279.27 L309.3,278.5 L310.3,277.8 L311.3,277.15 L312.3,276.56 L313.3,276.03 L314.3,275.54 L315.3,275.11 L316.3,274.73 L317.3,274.4 L318.3,274.11 L319.3,273.87 L320.3,273.67 L321.3,273.52 L322.3,273.41 L323.3,273.34 L324.3,273.3 L325.3,273.31 L326.3,273.35 L327.3,273.43 L328.3,273.54 L329.3,273.68 L330.3,273.85 L331.3,274.06 L332.3,274.29 L333.3,274.55 L334.3,274.83 L335.3,275.14 L336.3,275.47 L337.3,275.82 L338.3,276.19 L339.3,276.58 L340.3,276.99 L341.3,277.41 L342.3,277.84 L343.3,278.28 L344.3,278.74 L345.3,279.2 L346.3,279.67 L347.3,280.15 L348.3,280.62 L349.3,281.1 L350.3,281.58 L351.3,282.06 L352.3,282.54 L353.3,283.01 L354.3,283.47 L355.3,283.93 L356.3,284.38 L357.3,284.81 L358.3,285.24 L359.3,285.65 L360.3,286.04 L361.3,286.42 L362.3,286.77 L363.3,287.11 L364.3,287.43 L365.3,287.74 L366.3,288.04 L367.3,288.32 L368.3,288.6 L369.3,288.86 L370.3,289.13 L371.3,289.39 L372.3,289.66 L373.3,289.93 L374.3,290.2 L375.3,290.48 L376.3,290.77 L377.3,291.07 L378.3,291.38 L378.4,291.41" fill="none" stroke="#ff0000" stroke-width="1.6" stroke-linejoin="round" clip-path="url(#cd)"/>
<text x="215.3" y="195.4" font-size="11" text-anchor="middle">(d)</text>
<text x="311" y="357" font-size="11" text-anchor="middle">T/t</text>
<text transform="translate(221,272.2) rotate(-90)" font-size="13"><tspan font-size="14.5">ρ</tspan>(T)</text>
<path d="M322,213.3H338.8" stroke="#ff0000" stroke-width="1.4" fill="none"/>
<path d="M322,223.6H338.8" stroke="#0000ff" stroke-width="1.6" stroke-dasharray="3.4 2.1" fill="none"/>
<text x="341.1" y="216.2" font-size="8.6" text-anchor="start">lattice</text>
<text x="339.4" y="226.2" font-size="8.6" text-anchor="start">impurity</text>
</svg>
</body></html>
